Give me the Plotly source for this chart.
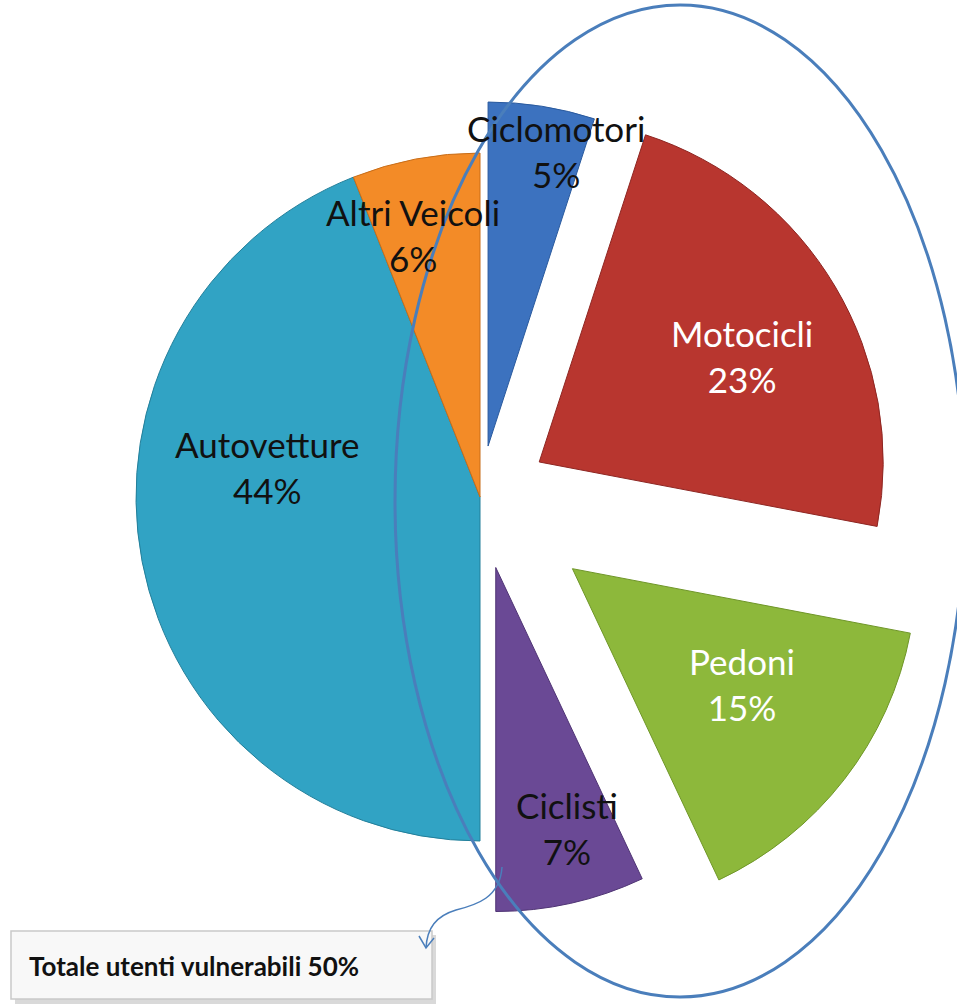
import plotly.graph_objects as go

# Road-casualty shares by user category (clockwise from 12 o'clock)
categories = ["Ciclomotori", "Motocicli", "Pedoni", "Ciclisti", "Autovetture", "Altri Veicoli"]
shares = [5, 23, 15, 7, 44, 6]
pulls = [0.15, 0.20, 0.34, 0.21, 0.0, 0.0]

slice_colors = ["#3c72bf", "#b8362f", "#8db83b", "#6a4995", "#31a3c4", "#f38b27"]
edge_colors = ["#2a5a9e", "#8e2622", "#6f9628", "#4f3474", "#237f9a", "#c86d18"]
label_colors = ["#111111", "#ffffff", "#ffffff", "#111111", "#111111", "#111111"]

# label anchor points (pixels on the 957x1006 page)
label_pos = [(556, 151), (742, 356), (742, 684), (567, 828), (267, 467), (413, 235)]

summary_text = "Totale utenti vulnerabili 50%"

W, H = 957, 1006
FONT = "Lato, 'Open Sans', sans-serif"

# pie box: centre (480, 497) and radius 344 px once the largest pull is accounted for
cx, cy, r = 480, 497, 344
half = r * (1 + max(pulls))
dom_x = [(cx - half) / W, (cx + half) / W]
dom_y = [1 - (cy + half) / H, 1 - (cy - half) / H]

fig = go.Figure()

fig.add_trace(go.Pie(
    labels=categories,
    values=shares,
    pull=pulls,
    sort=False,
    direction="clockwise",
    rotation=0,
    textinfo="none",
    hoverinfo="label+percent",
    marker=dict(colors=slice_colors, line=dict(color=edge_colors, width=1)),
    domain=dict(x=dom_x, y=dom_y),
    showlegend=False,
))

# invisible pixel-space axes for overlays
fig.add_trace(go.Scatter(x=[0, W], y=[0, H], mode="markers",
                         marker=dict(opacity=0), hoverinfo="skip", showlegend=False))

total = sum(shares)
for name, v, (px, py), col in zip(categories, shares, label_pos, label_colors):
    fig.add_annotation(
        x=px, y=py, xref="x", yref="y",
        text=f"{name}<br>{round(100 * v / total)}%",
        showarrow=False,
        font=dict(family=FONT, size=35, color=col),
        align="center",
    )

blue = "#4a7ebb"
shapes = [
    # ellipse around the vulnerable-user slices
    dict(type="circle", xref="x", yref="y", x0=395, x1=965, y0=5, y1=997,
         line=dict(color=blue, width=3), layer="above"),
    # summary box shadow + box
    dict(type="rect", xref="x", yref="y", x0=15, x1=436, y0=935, y1=1004,
         fillcolor="#d9d9d9", line=dict(width=0), layer="above"),
    dict(type="rect", xref="x", yref="y", x0=11, x1=432, y0=931, y1=999,
         fillcolor="#f8f8f8", line=dict(color="#c9c9c9", width=1.5), layer="above"),
    # curved connector from the Ciclisti slice to the box
    dict(type="path", xref="x", yref="y",
         path="M 502 867 C 500 898, 476 905, 456 910 C 436 916, 427 928, 426 948",
         line=dict(color=blue, width=1.5), layer="above"),
    dict(type="path", xref="x", yref="y",
         path="M 419 936 L 426 948 L 434 938",
         line=dict(color=blue, width=1.5), layer="above"),
]
fig.update_layout(shapes=shapes)

fig.add_annotation(
    x=27, y=966, xref="x", yref="y", xanchor="left", yanchor="middle",
    text=f"<b>{summary_text}</b>", showarrow=False,
    font=dict(family=FONT, size=26, color="#111111"),
)

fig.update_layout(
    width=W, height=H,
    margin=dict(l=0, r=0, t=0, b=0),
    paper_bgcolor="white", plot_bgcolor="rgba(0,0,0,0)",
    xaxis=dict(range=[0, W], visible=False, domain=[0, 1], fixedrange=True),
    yaxis=dict(range=[H, 0], visible=False, domain=[0, 1], fixedrange=True),
)

fig.write_html("out.html")
